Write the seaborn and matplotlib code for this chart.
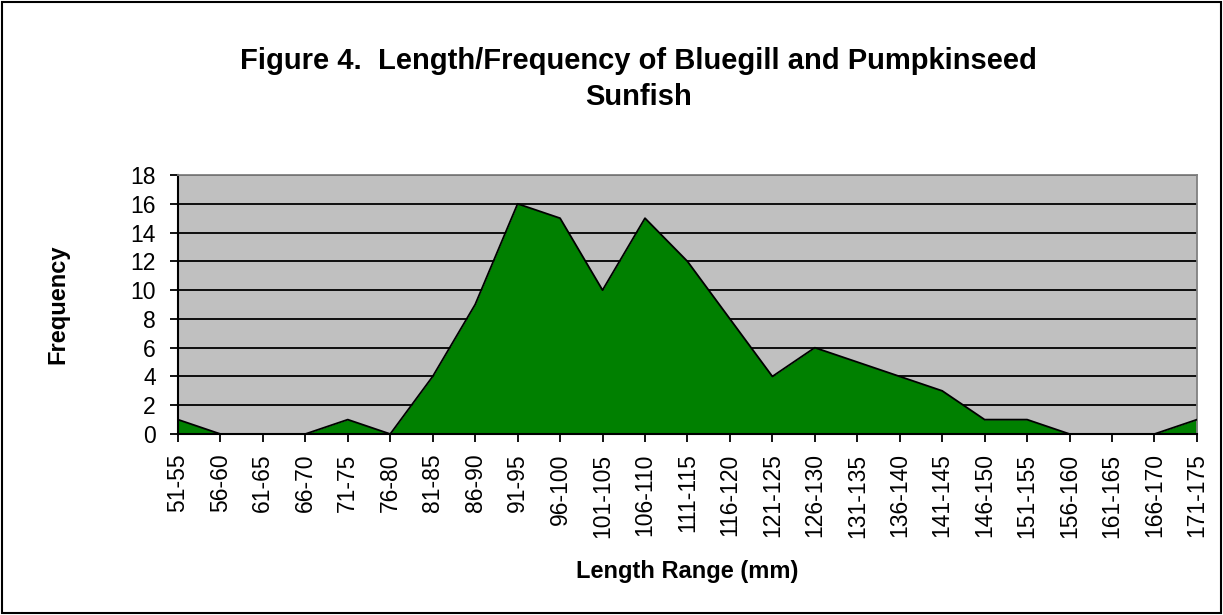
import matplotlib
matplotlib.use("Agg")
import matplotlib.pyplot as plt
import pandas as pd
import seaborn as sns

# Datos
length_ranges = ['51-55', '56-60', '61-65', '66-70', '71-75', '76-80', '81-85',
                 '86-90', '91-95', '96-100', '101-105', '106-110', '111-115',
                 '116-120', '121-125', '126-130', '131-135', '136-140', '141-145',
                 '146-150', '151-155', '156-160', '161-165', '166-170', '171-175']
frequency = [1, 0, 0, 0, 1, 0, 4, 9, 16, 15, 10, 15, 12, 8, 4, 6, 5, 4, 3,
             1, 1, 0, 0, 0, 1]
y_ticks = list(range(0, 19, 2))

sns.set_theme(style='white')
plt.rcParams['font.family'] = ['Liberation Sans', 'DejaVu Sans']
plt.rcParams['text.color'] = 'black'
plt.rcParams['axes.labelcolor'] = 'black'
plt.rcParams['xtick.color'] = 'black'
plt.rcParams['ytick.color'] = 'black'

df = pd.DataFrame({'pos': range(len(length_ranges)),
                   'range': length_ranges,
                   'freq': frequency})

fig = plt.figure(figsize=(12.23, 6.15), dpi=100)
ax = fig.add_axes([0.1455, 0.2943, 0.8332, 0.4211])
ax.set_facecolor('#c0c0c0')

# Área verde con contorno negro
ax.fill_between(df['pos'], df['freq'], 0, color='#008000', zorder=2, linewidth=0)
sns.lineplot(data=df, x='pos', y='freq', color='black', linewidth=1.3,
             ax=ax, zorder=3)

for y in y_ticks[1:]:
    ax.axhline(y, color='black', linewidth=1.3, zorder=1)

ax.set_xlim(0, len(length_ranges) - 1)
ax.set_ylim(0, 18)
ax.set_yticks(y_ticks)
ax.set_xticks(df['pos'])
ax.set_xticklabels(length_ranges, rotation=90, fontsize=16.5)
ax.tick_params(axis='y', labelsize=16.5, pad=10)
ax.tick_params(axis='x', pad=8)
ax.tick_params(axis='both', direction='out', length=6, width=1.3,
               color='black', bottom=True, left=True)

for side in ['left', 'bottom']:
    ax.spines[side].set_color('black')
    ax.spines[side].set_linewidth(1.5)
for side in ['top', 'right']:
    ax.spines[side].set_color('#808080')
    ax.spines[side].set_linewidth(1.3)
ax.spines['bottom'].set_zorder(4)

ax.set_xlabel('Length Range (mm)', fontsize=17, fontweight='bold', labelpad=16)
ax.set_ylabel('Frequency', fontsize=17, fontweight='bold', labelpad=44)

fig.text(0.522, 0.872, 'Figure 4.  Length/Frequency of Bluegill and Pumpkinseed\nSunfish',
         ha='center', va='center', fontsize=21, fontweight='bold', linespacing=1.35)

# Borde exterior de la figura
border = plt.Rectangle((0.002, 0.003), 0.996, 0.994, transform=fig.transFigure,
                       fill=False, edgecolor='black', linewidth=1.5)
fig.patches.append(border)

fig.savefig('out.png', dpi=100)
